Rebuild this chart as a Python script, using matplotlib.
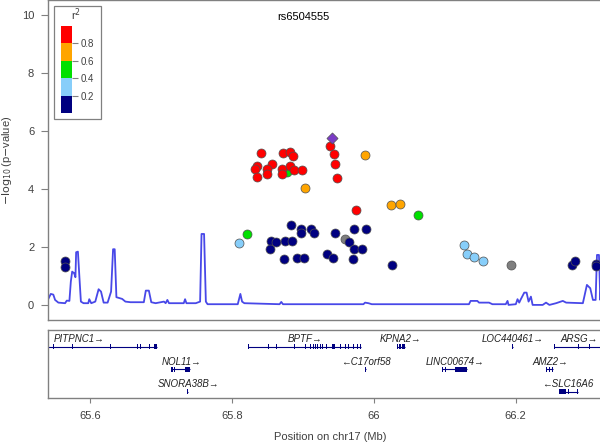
import matplotlib
matplotlib.use("Agg")

import matplotlib.pyplot as plt
import numpy as np

plt.rcParams['font.family'] = ['Liberation Sans', 'DejaVu Sans']

# --------------------------
# association results (position in Mb, -log10 p)
# --------------------------
navy_x = [65.5645, 65.5645, 65.883, 65.898, 65.911, 65.898, 65.916, 65.855, 65.862,
          65.8747, 65.885, 65.853, 65.873, 65.891, 65.902, 65.946, 65.972, 65.989,
          65.9655, 65.9726, 65.983, 65.934, 65.943, 65.970, 66.0255, 66.280, 66.284,
          66.314, 66.314]
navy_y = [1.52, 1.31, 2.77, 2.63, 2.62, 2.48, 2.47, 2.22, 2.17, 2.19, 2.21, 1.93,
          1.57, 1.62, 1.62, 2.48, 2.63, 2.62, 2.17, 1.92, 1.92, 1.77, 1.63, 1.60,
          1.37, 1.36, 1.52, 1.42, 1.34]

lblue_x = [65.810, 66.1267, 66.131, 66.142, 66.1546]
lblue_y = [2.13, 2.05, 1.76, 1.64, 1.51]

green_x = [65.8213, 66.0624, 65.878]
green_y = [2.45, 3.09, 4.60]

orange_x = [65.9877, 65.9026, 66.0241, 66.0369]
orange_y = [5.18, 4.02, 3.46, 3.48]

red_x = [65.8407, 65.8714, 65.8813, 65.886, 65.835, 65.857, 65.8326, 65.850,
         65.8355, 65.849, 65.870, 65.882, 65.871, 65.888, 65.899,
         65.9385, 65.944, 65.945, 65.9475, 65.9754]
red_y = [5.25, 5.24, 5.29, 5.15, 4.80, 4.85, 4.68, 4.68, 4.41, 4.51, 4.70, 4.79,
         4.51, 4.66, 4.67, 5.48, 5.22, 4.85, 4.38, 3.26]

gray_x = [65.959, 66.193]
gray_y = [2.29, 1.36]

lead_snp = "rs6504555"
lead_x = 65.9404
lead_y = 5.77

# recombination rate (cM/Mb)
recomb_pos = [65.5409, 65.5443, 65.5479, 65.5504, 65.5550, 65.5645, 65.5669, 65.5706,
              65.5726, 65.5745, 65.5773, 65.5791, 65.5801, 65.5826, 65.5848, 65.5868,
              65.5905, 65.5972, 65.5986, 65.6014, 65.6071, 65.6118, 65.6152, 65.6189,
              65.6245, 65.6294, 65.6322, 65.6345, 65.6369, 65.6450, 65.6496, 65.6567,
              65.6756, 65.6784, 65.6827, 65.6861, 65.6922, 65.7040, 65.7064, 65.7088,
              65.7111, 65.7319, 65.7338, 65.7357, 65.7489, 65.7550, 65.7570, 65.7606,
              65.7631, 65.7655, 65.8081, 65.8118, 65.8142, 65.8174, 65.8671, 65.8695,
              65.8719, 65.9404, 65.9451, 65.9854, 65.9877, 65.9925, 65.9972, 66.1343,
              66.1366, 66.1461, 66.1485, 66.1626, 66.1674, 66.1862, 66.1887, 66.1901,
              66.2004, 66.2028, 66.2052, 66.2075, 66.2123, 66.2156, 66.2184, 66.2217,
              66.2241, 66.2383, 66.2430, 66.2478, 66.2572, 66.2667, 66.2714, 66.2950,
              66.3007, 66.3054, 66.3092, 66.3130, 66.3149, 66.3177, 66.3196, 66.3224]
recomb_rate = [2.07, 3.79, 3.55, 1.72, 0.79, 0.59, 1.48, 1.38,
               8.03, 11.48, 10.93, 9.55, 18.17, 18.38, 9.21, 1.14,
               0.59, 0.59, 1.97, 0.59, 1.14, 5.41, 4.59, 0.79,
               0.79, 4.59, 19.21, 19.21, 2.66, 2.07, 1.14, 0.93,
               0.93, 4.93, 4.93, 0.93, 0.59, 1.14, 0.59, 1.72,
               0.59, 0.59, 1.97, 0.59, 0.59, 1.14, 24.48, 24.48,
               1.14, 0.24, 0.24, 3.79, 1.14, 0.59, 0.24, 1.03,
               0.24, 0.24, 0.24, 0.24, 0.79, 0.59, 0.24, 0.24,
               1.38, 1.38, 0.79, 0.79, 0.24, 0.24, 1.38, 0.0,
               0.24, 1.97, 0.79, 1.97, 4.24, 4.24, 1.14, 2.86,
               0.0, 0.0, 0.79, 0.0, 0.59, 1.38, 0.79, 0.59,
               6.90, 5.76, 1.72, 1.72, 17.24, 17.24, 1.72, 13.21]

# --------------------------
# genes
# --------------------------
gene_names = ["PITPNC1", "BPTF", "KPNA2", "LOC440461", "ARSG",
              "NOL11", "C17orf58", "LINC00674", "AMZ2",
              "SNORA38B", "SLC16A6"]
gene_strand = ["+", "+", "+", "+", "+", "+", "-", "+", "+", "+", "-"]
gene_row = [0, 0, 0, 0, 0, 1, 1, 1, 1, 2, 2]
gene_start = [65.37, 65.8223, 66.0326, 66.1950, 66.2549,
              65.7135, 65.9880, 66.0965, 66.2430, 65.7368, 66.2620]
gene_end = [65.6936, 65.9816, 66.0435, 66.1964, 66.40,
            65.7409, 65.9894, 66.1319, 66.2525, 65.7376, 66.2880]
gene_label_x = [65.584, 65.9035, 66.0383, 66.1957, 66.3165,
                65.729, 65.9887, 66.115, 66.249, 65.739, 66.2738]
gene_exons = {
    "PITPNC1": [(65.5479, 65.5485), (65.5740, 65.5746), (65.6284, 65.6290),
                (65.6662, 65.6668), (65.6709, 65.6715), (65.6827, 65.6833),
                (65.6894, 65.6936)],
    "BPTF": [(65.8223, 65.8229), (65.8506, 65.8512), (65.8624, 65.8630),
             (65.8742, 65.8748), (65.8813, 65.8819), (65.8875, 65.8895),
             (65.9026, 65.9032), (65.9096, 65.9102), (65.9145, 65.9151),
             (65.9167, 65.9173), (65.9206, 65.9212), (65.9238, 65.9244),
             (65.9272, 65.9278), (65.9333, 65.9339), (65.9404, 65.9451),
             (65.9522, 65.9528), (65.9593, 65.9599), (65.9641, 65.9647),
             (65.9712, 65.9718), (65.9759, 65.9765), (65.9810, 65.9816)],
    "KPNA2": [(66.0326, 66.0345), (66.0360, 66.0380), (66.0395, 66.0435)],
    "LOC440461": [(66.1950, 66.1964)],
    "ARSG": [(66.2549, 66.2555), (66.2877, 66.2883), (66.3032, 66.3038)],
    "NOL11": [(65.7135, 65.7165), (65.7180, 65.7200), (65.7330, 65.7409)],
    "C17orf58": [(65.9880, 65.9894)],
    "LINC00674": [(66.0965, 66.0975), (66.1010, 66.1018), (66.1149, 66.1319)],
    "AMZ2": [(66.2430, 66.2440), (66.2470, 66.2480), (66.2510, 66.2525)],
    "SNORA38B": [(65.7368, 65.7376)],
    "SLC16A6": [(66.2620, 66.2710), (66.2740, 66.2750), (66.2790, 66.2800),
                (66.2870, 66.2880)],
}

ld_levels = [0.2, 0.4, 0.6, 0.8]
ld_colors = ["#000080", "#87CEFA", "#00E000", "#FFA500", "#FF0000"]

XLIM = (65.5404, 66.3234)
frame_col = "#808080"
text_col = "#404040"
gene_col = "#000080"

fig = plt.figure(figsize=(6, 4.43), dpi=100)

# --------------------------
# main association panel
# --------------------------
ax = fig.add_axes([0.08, 0.2777, 0.925, 0.7223])
ax.set_xlim(*XLIM)
ax.set_ylim(-0.52, 10.52)

ax.plot(recomb_pos, np.array(recomb_rate) / 10.0, color="#4848e8", lw=1.3, zorder=1)

pt = dict(s=42, edgecolors="#505050", linewidths=0.5, zorder=3)
ax.scatter(gray_x, gray_y, c="#7F7F7F", **pt)
ax.scatter(navy_x, navy_y, c=ld_colors[0], **pt)
ax.scatter(lblue_x, lblue_y, c=ld_colors[1], **pt)
ax.scatter(green_x, green_y, c=ld_colors[2], **pt)
ax.scatter(orange_x, orange_y, c=ld_colors[3], **pt)
ax.scatter(red_x, red_y, c=ld_colors[4], **pt)
ax.scatter([lead_x], [lead_y], c="#7B3CC6", marker="D", s=32,
           edgecolors="#505050", linewidths=0.5, zorder=4)

ax.text(65.90, 9.93, lead_snp, ha="center", va="center", fontsize=8, color="black")

ax.set_xticks([])
ax.set_yticks([0, 2, 4, 6, 8, 10])
ax.tick_params(axis="y", length=5.4, width=0.8, color=frame_col,
               labelsize=8, labelcolor=text_col, pad=4.5)
for sp in ax.spines.values():
    sp.set_color(frame_col)
    sp.set_linewidth(1.0)
ax.set_ylabel(r"$-\log_{10}$(p$-$value)", fontsize=8, color=text_col, labelpad=6)

# r^2 legend
ax.add_patch(plt.Rectangle((0.0114, 0.628), 0.0846, 0.353, transform=ax.transAxes,
                           facecolor="white", edgecolor=frame_col, lw=0.9, zorder=5))
lax = fig.add_axes([0.08 + 0.925 * 0.0236, 0.2777 + 0.7223 * 0.646,
                    0.925 * 0.0199, 0.7223 * 0.2737])
lax.set_xlim(0, 1)
lax.set_ylim(0, 1)
lax.bar(0.5, 0.2, width=1.0, bottom=[0.0, 0.2, 0.4, 0.6, 0.8], color=ld_colors,
        edgecolor="none")
lax.set_xticks([])
lax.set_yticks(ld_levels)
lax.set_yticklabels([str(v) for v in ld_levels])
lax.yaxis.tick_right()
lax.tick_params(axis="y", length=4, width=0.8, color=frame_col, labelsize=7,
                labelcolor=text_col, pad=2)
for sp in lax.spines.values():
    sp.set_visible(False)
lax.set_zorder(6)
ax.text(0.0507, 0.953, r"r$^2$", transform=ax.transAxes, ha="center", va="center",
        fontsize=8, color=text_col, zorder=6)

# --------------------------
# gene panel
# --------------------------
gax = fig.add_axes([0.08, 0.1016, 0.925, 0.1535])
gax.set_xlim(*XLIM)
gax.set_ylim(-2.28, 0.742)

for name, strand, row, s, e, lx in zip(gene_names, gene_strand, gene_row,
                                       gene_start, gene_end, gene_label_x):
    y = -row
    gax.plot([s, e], [y, y], color=gene_col, lw=0.8, solid_capstyle="butt")
    exons = [(a, max(b - a, 0.0012)) for a, b in gene_exons[name]]
    gax.broken_barh(exons, (y - 0.11, 0.22), facecolors=gene_col)
    label = name + "\u2192" if strand == "+" else "\u2190" + name
    # keep the last label inside the panel at the right edge
    ha = "right" if name == "ARSG" else "center"
    gax.text(lx, y + 0.34, label, ha=ha, va="center", fontsize=7,
             style="italic", color="#222222", clip_on=True)

gax.set_yticks([])
gax.set_xticks([65.6, 65.8, 66.0, 66.2])
gax.set_xticklabels(["65.6", "65.8", "66", "66.2"])
gax.tick_params(axis="x", length=3.6, width=0.8, color=frame_col, labelsize=8,
                labelcolor=text_col, pad=6)
for sp in gax.spines.values():
    sp.set_color(frame_col)
    sp.set_linewidth(1.0)

fig.text(0.551, 0.0135, "Position on chr17 (Mb)", ha="center", va="center",
         fontsize=8, color=text_col)

fig.savefig("out.png", dpi=100)
